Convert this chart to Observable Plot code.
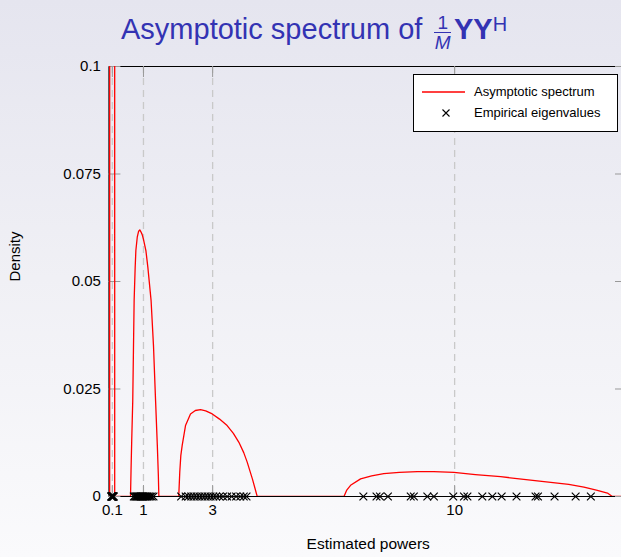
<!DOCTYPE html>
<html>
<head>
<meta charset="utf-8">
<script src="https://cdn.jsdelivr.net/npm/d3@7"></script>
<script src="https://cdn.jsdelivr.net/npm/@observablehq/plot@0.6"></script>
<style>
  html, body {
    margin: 0;
    padding: 0;
    width: 621px;
    height: 557px;
    overflow: hidden;
    background: linear-gradient(to bottom, #e5e5ef 0%, #f0f0f5 50%, #fafafc 100%);
    font-family: "Liberation Sans", Arial, Helvetica, sans-serif;
  }
  #head {
    position: relative;
    height: 56px;
  }
  #title {
    position: absolute;
    left: 121px;
    top: 10px;
    font-size: 29px;
    line-height: 29px;
    color: #3333b3;
    white-space: nowrap;
  }
  .frac {
    display: inline-block;
    vertical-align: -10px;
    text-align: center;
    font-size: 19px;
    margin: 0 3px 0 4px;
  }
  .frac .num {
    display: block;
    line-height: 19px;
    padding: 0 3px;
    border-bottom: 1.4px solid #3333b3;
  }
  .frac .den {
    display: block;
    line-height: 19px;
    font-style: italic;
  }
  .sup {
    font-size: 20px;
    vertical-align: 8px;
  }
  #chart { position: relative; }
  #legend {
    position: absolute;
    left: 413px;
    top: 74px;
    width: 205px;
    height: 58px;
    box-sizing: border-box;
    border: 1px solid #000;
    background: #fff;
    font-size: 13px;
    color: #000;
  }
  #legend .item {
    position: absolute;
    left: 60px;
    line-height: 14px;
    white-space: nowrap;
  }
  #legend svg { position: absolute; left: 0; top: 0; }
</style>
</head>
<body>
<div id="head">
  <div id="title">Asymptotic spectrum of <span class="frac"><span class="num">1</span><span class="den">M</span></span><b>YY</b><span class="sup">H</span></div>
</div>
<div id="chart"></div>
<script>
// Tick positions
const xTicks = [0.1, 1, 3, 10];
const yTicks = [0, 0.025, 0.05, 0.075, 0.1];

// Limiting spectral density of (1/M) Y Y^H (x = eigenvalue, y = density)
const spectrumX = [
  0, 0.022, 0.026, 0.05, 0.095, 0.14, 0.164, 0.168,
  0.625, 0.64, 0.66, 0.69, 0.71, 0.73, 0.76, 0.78, 0.82, 0.86, 0.894, 0.93, 0.963, 1.0, 1.07, 1.127, 1.22, 1.29, 1.35, 1.40, 1.43, 1.445,
  2.02, 2.05, 2.08, 2.12, 2.216, 2.36, 2.5, 2.65, 2.8, 2.99, 3.2, 3.42, 3.6, 3.76, 3.9, 4.0, 4.15, 4.29,
  6.80, 6.88, 6.99, 7.28, 7.6, 7.95, 8.4, 8.92, 9.4, 9.98, 10.6, 11.33, 12.0, 12.78, 13.3, 13.74, 14.1, 14.42, 14.56,
  15
];
const spectrumY = [
  0, 0, 0.6, 2.5, 3.2, 2.5, 0.6, 0,
  0, 0.006, 0.013, 0.0223, 0.034, 0.0456, 0.0533, 0.0572, 0.0603, 0.0617, 0.062, 0.0615, 0.0609, 0.0598, 0.0572, 0.0533, 0.0456, 0.035, 0.0223, 0.012, 0.005, 0,
  0, 0.0057, 0.0095, 0.0119, 0.0165, 0.0192, 0.02, 0.0202, 0.0199, 0.0192, 0.018, 0.0165, 0.0147, 0.0126, 0.0102, 0.008, 0.0041, 0,
  0, 0.0015, 0.0026, 0.0041, 0.0048, 0.0053, 0.0056, 0.0058, 0.0058, 0.0056, 0.0051, 0.0046, 0.004, 0.0033, 0.0028, 0.0022, 0.0015, 0.0008, 0,
  0
];

// Sample eigenvalues of (1/M) Y Y^H
const eigenvalues = [
  0.067, 0.075, 0.082, 0.088, 0.094, 0.1, 0.106, 0.112, 0.12, 0.13, 0.142,
  0.72, 0.75, 0.78, 0.8, 0.82, 0.84, 0.86, 0.88, 0.9, 0.92, 0.94, 0.96, 0.98, 1.0, 1.03, 1.06, 1.09, 1.12, 1.16, 1.2, 1.24, 1.29,
  2.09, 2.22, 2.3, 2.38, 2.46, 2.54, 2.62, 2.7, 2.78, 2.86, 2.94, 3.02, 3.1, 3.2, 3.3, 3.42, 3.55, 3.68, 3.8, 3.9, 3.98,
  7.36, 7.74, 7.84, 8.07, 8.73, 8.82, 9.21, 9.4, 9.96, 10.27, 10.37, 10.8, 11.09, 11.36, 11.79, 12.34, 12.41, 12.89, 13.5, 13.94
];

const spectrum = spectrumX.map((x, i) => ({x, y: spectrumY[i]}));

const width = 640, height = 501;
const marginLeft = 108.4, marginRight = 13, marginTop = 10, marginBottom = 61;
const pw = width - marginLeft - marginRight;
const ph = height - marginTop - marginBottom;

const chart = Plot.plot({
  width, height, marginLeft, marginRight, marginTop, marginBottom,
  style: {
    background: "transparent",
    fontFamily: "'Liberation Sans', Arial, Helvetica, sans-serif",
    fontSize: "15px",
    color: "#000",
    maxWidth: "none",
    overflow: "visible"
  },
  x: {domain: [0, 15]},
  y: {domain: [0, 0.1]},
  marks: [
    // dashed guides at the true powers
    Plot.ruleX(xTicks, {x: d => d, stroke: "#c9c9c9", strokeWidth: 1.3, strokeDasharray: "7,5"}),
    Plot.frame({stroke: "#000", strokeWidth: 1}),
    // inward tick marks on all four sides
    Plot.ruleX(xTicks, {x: d => d, stroke: "#999", strokeWidth: 1, insetBottom: ph - 11}),
    Plot.ruleX(xTicks, {x: d => d, stroke: "#999", strokeWidth: 1, insetTop: ph - 11}),
    Plot.ruleY(yTicks, {y: d => d, stroke: "#999", strokeWidth: 1, insetRight: pw - 12}),
    Plot.ruleY(yTicks, {y: d => d, stroke: "#999", strokeWidth: 1, insetLeft: pw - 12}),
    Plot.axisX({ticks: xTicks, tickSize: 0, tickPadding: 8, tickFormat: d => String(d), label: null}),
    Plot.axisY({ticks: yTicks, tickSize: 0, tickPadding: 8, tickFormat: d => String(d), label: null}),
    Plot.text(["Estimated powers"], {frameAnchor: "bottom", dy: 52, fontSize: 15.5}),
    Plot.text(["Density"], {frameAnchor: "left", dx: -94, rotate: -90, fontSize: 15}),
    Plot.line(spectrum, {x: "x", y: "y", stroke: "#ff0000", strokeWidth: 1.3, clip: true}),
    Plot.dot(eigenvalues, {x: d => d, y: () => 0, symbol: "times", r: 3.6, stroke: "#000", strokeWidth: 1.15})
  ]
});

const host = document.getElementById("chart");
host.appendChild(chart);

// Legend box inside the plot area
const legend = document.createElement("div");
legend.id = "legend";
legend.innerHTML = `
  <svg width="60" height="56">
    <line x1="8" y1="17" x2="51" y2="17" stroke="#ff0000" stroke-width="1.3"/>
    <path d="M28.5,34.5L35.5,41.5M35.5,34.5L28.5,41.5" stroke="#000" stroke-width="1.1" fill="none"/>
  </svg>
  <div class="item" style="top:10px">Asymptotic spectrum</div>
  <div class="item" style="top:31px">Empirical eigenvalues</div>`;
document.body.appendChild(legend);
</script>
</body>
</html>
